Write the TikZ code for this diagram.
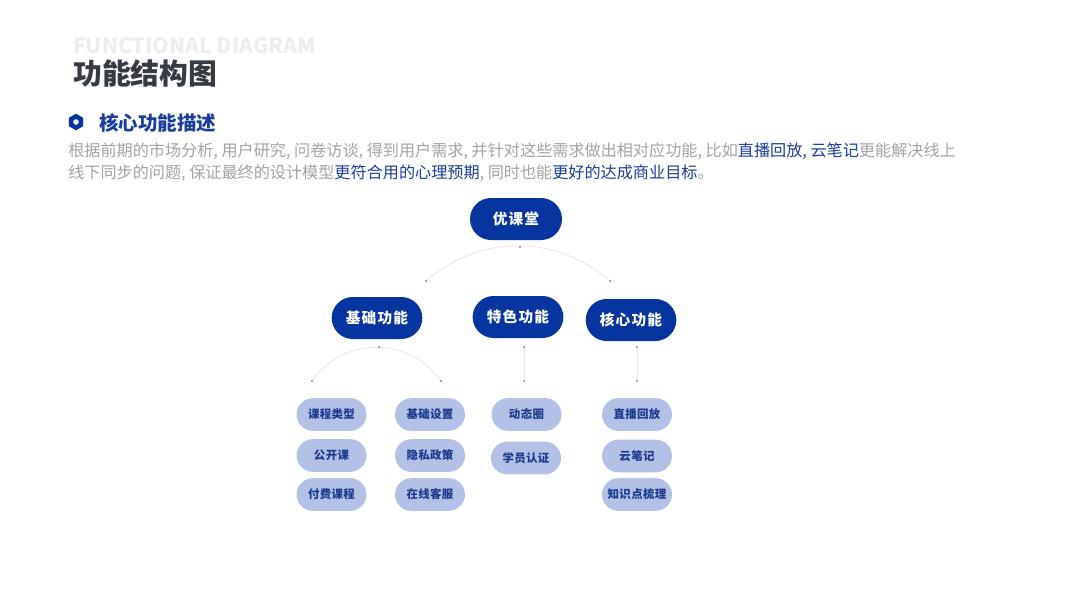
\documentclass[tikz,border=0pt]{standalone}
\usepackage{fontspec}
\setmainfont{Noto Sans CJK SC}
\usetikzlibrary{shapes.geometric,shapes.misc}
\definecolor{navy}{HTML}{0735A0}
\definecolor{leaf}{HTML}{B3C1E6}
\definecolor{leaftxt}{HTML}{1B3A8E}
\definecolor{para}{HTML}{A3A3A3}
\definecolor{hl}{HTML}{1A3D9E}
\definecolor{titlec}{HTML}{363A43}
\definecolor{ghost}{HTML}{EDEDEF}
\definecolor{linec}{HTML}{E6E6E6}
\definecolor{dotc}{HTML}{8A8A8A}
\tikzset{
  mainbox/.style={rounded rectangle, fill=navy, text=white, minimum width=68pt, minimum height=31.5pt, inner sep=0pt, font=\fontsize{11}{13}\selectfont\bfseries\addfontfeature{LetterSpace=8}},
  rootbox/.style={mainbox, minimum width=69pt},
  leafbox/.style={rounded rectangle, fill=leaf, text=leaftxt, minimum width=52.5pt, minimum height=24.5pt, inner sep=0pt, font=\fontsize{8.6}{10}\selectfont\bfseries\addfontfeature{LetterSpace=3}},
  conn/.style={draw=linec, line width=0.6pt},
  dotmark/.style={fill=dotc, circle, inner sep=0pt, minimum size=1.6pt},
}
\begin{document}
\begin{tikzpicture}[x=0.75pt,y=-0.75pt]
\useasboundingbox[fill=white] (0,0) rectangle (1067,600);
% titles
\node[anchor=west, inner sep=0pt, text=ghost, font=\fontsize{15.8}{17}\selectfont\bfseries] (ghosttitle) at (73,46) {FUNCTIONAL DIAGRAM};
\node[anchor=west, inner sep=0pt, text=titlec, font=\fontsize{21.6}{24}\selectfont\bfseries] (title) at (73,74) {功能结构图};
% section heading
\node[regular polygon, regular polygon sides=6, shape border rotate=30, fill=navy, minimum size=12.5pt, inner sep=0pt] (hex) at (76,122) {};
\fill[white] (hex.center) circle (2.8);
\node[anchor=west, inner sep=0pt, text=hl, font=\fontsize{14.6}{17}\selectfont\bfseries] (heading) at (99,123) {核心功能描述};
% paragraph
\node[anchor=west, inner sep=0pt, text=para, font=\fontsize{12.1}{14}\selectfont] (p1) at (68,151) {根据前期的市场分析, 用户研究, 问卷访谈, 得到用户需求, 并针对这些需求做出相对应功能, 比如\textcolor{hl}{直播回放, 云笔记}更能解决线上};
\node[anchor=west, inner sep=0pt, text=para, font=\fontsize{12.1}{14}\selectfont] (p2) at (68,173) {线下同步的问题, 保证最终的设计模型\textcolor{hl}{更符合用的心理预期}, 同时也能\textcolor{hl}{更好的达成商业目标}。};
% main nodes
\node[rootbox] (root) at (516,219) {优课堂};
\node[mainbox] (basic) at (377,318) {基础功能};
\node[mainbox] (special) at (518,317) {特色功能};
\node[mainbox] (core) at (631,320) {核心功能};
% connectors level 1
\coordinate (r1) at (426,281);
\coordinate (rt) at (520,247);
\coordinate (r2) at (610,281);
\draw[conn] (r1) to[out=41,in=139] (r2);
% level 2
\coordinate (b1) at (312,381);
\coordinate (bt) at (379,347);
\coordinate (b2) at (441,381);
\draw[conn] (b1) to[out=55,in=125,looseness=1.09] (b2);
\coordinate (s1) at (524,347);
\coordinate (s2) at (524,381);
\draw[conn] (s1) -- (s2);
\coordinate (c1) at (637,347);
\coordinate (c2) at (637,381);
\draw[conn] (c1) -- (c2);
\foreach \p in {r1,rt,r2,b1,bt,b2,s1,s2,c1,c2} \node[dotmark] at (\p) {};
% leaves
\node[leafbox] (l11) at (331.5,414.5) {课程类型};
\node[leafbox] (l12) at (331.5,455.5) {公开课};
\node[leafbox] (l13) at (331.5,494.5) {付费课程};
\node[leafbox] (l21) at (430,414.5) {基础设置};
\node[leafbox] (l22) at (430,455.5) {隐私政策};
\node[leafbox] (l23) at (430,494.5) {在线客服};
\node[leafbox] (l31) at (526.5,414.5) {动态圈};
\node[leafbox] (l32) at (526,458) {学员认证};
\node[leafbox] (l41) at (637,414.5) {直播回放};
\node[leafbox] (l42) at (637,456) {云笔记};
\node[leafbox] (l43) at (637,494.5) {知识点梳理};
\end{tikzpicture}
\end{document}
